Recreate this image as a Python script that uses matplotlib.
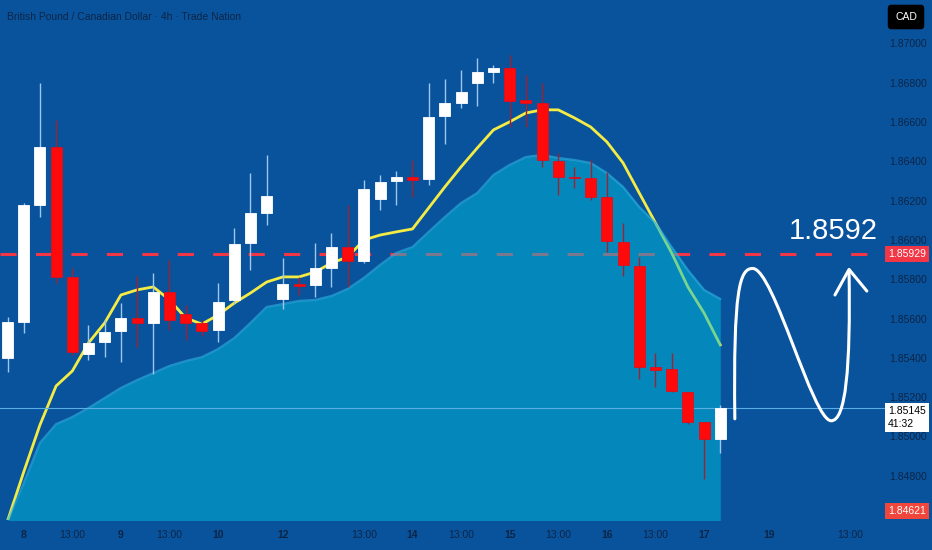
import numpy as np
import matplotlib.pyplot as plt
from matplotlib.path import Path
from matplotlib.patches import PathPatch

# 4h candles, GBP/CAD
opens = [1.85399, 1.85583, 1.86178, 1.86473, 1.85812, 1.85420, 1.85481, 1.85537, 1.85603, 1.85578,
         1.85735, 1.85623, 1.85578, 1.85542, 1.85695, 1.85985, 1.86137, 1.85700, 1.85776, 1.85771,
         1.85857, 1.85964, 1.85893, 1.86209, 1.86300, 1.86321, 1.86310, 1.86631, 1.86697, 1.86799,
         1.86855, 1.86875, 1.86713, 1.86697, 1.86402, 1.86321, 1.86316, 1.86219, 1.85990, 1.85868,
         1.85354, 1.85343, 1.85226, 1.85074, 1.84987]
highs = [1.85608, 1.86188, 1.86799, 1.86611, 1.85857, 1.85567, 1.85593, 1.85679, 1.85817, 1.85832,
         1.85898, 1.85669, 1.85593, 1.85781, 1.86061, 1.86341, 1.86433, 1.85908, 1.85812, 1.85985,
         1.86036, 1.86178, 1.86305, 1.86331, 1.86351, 1.86407, 1.86799, 1.86820, 1.86865, 1.86926,
         1.86891, 1.86942, 1.86840, 1.86799, 1.86443, 1.86372, 1.86407, 1.86346, 1.86087, 1.85913,
         1.85425, 1.85425, 1.85226, 1.85074, 1.85160]
lows = [1.85328, 1.85527, 1.86117, 1.85781, 1.85415, 1.85389, 1.85404, 1.85379, 1.85455, 1.85318,
        1.85542, 1.85490, 1.85511, 1.85481, 1.85674, 1.85847, 1.86076, 1.85649, 1.85720, 1.85710,
        1.85761, 1.85761, 1.85883, 1.86153, 1.86178, 1.86219, 1.86280, 1.86489, 1.86672, 1.86682,
        1.86799, 1.86575, 1.86575, 1.86372, 1.86229, 1.86265, 1.86204, 1.85939, 1.85817, 1.85292,
        1.85252, 1.85226, 1.85063, 1.84783, 1.84916]
closes = [1.85583, 1.86178, 1.86473, 1.85812, 1.85430, 1.85476, 1.85532, 1.85603, 1.85578, 1.85735,
          1.85593, 1.85578, 1.85537, 1.85684, 1.85980, 1.86137, 1.86224, 1.85776, 1.85766, 1.85857,
          1.85964, 1.85893, 1.86260, 1.86295, 1.86321, 1.86305, 1.86626, 1.86697, 1.86753, 1.86855,
          1.86875, 1.86708, 1.86697, 1.86407, 1.86321, 1.86316, 1.86219, 1.85995, 1.85873, 1.85354,
          1.85338, 1.85231, 1.85074, 1.84987, 1.85145]

# yellow moving average
ma_line = [1.8457, 1.84819, 1.85058, 1.85257, 1.85333, 1.85476, 1.85578, 1.85720, 1.85746, 1.85761,
           1.85695, 1.85603, 1.85572, 1.85618, 1.85679, 1.85730, 1.85786, 1.85812, 1.85812, 1.85837,
           1.85883, 1.85913, 1.86000, 1.86025, 1.86041, 1.86056, 1.86163, 1.86270, 1.86372, 1.86468,
           1.86560, 1.86601, 1.86646, 1.86662, 1.86662, 1.86621, 1.86575, 1.86499, 1.86392, 1.86239,
           1.86087, 1.85934, 1.85761, 1.85628, 1.85466]

# cyan area
area_top = [1.8457, 1.84763, 1.84967, 1.85063, 1.85099, 1.85145, 1.85196, 1.85247, 1.85287, 1.85323,
            1.85359, 1.85384, 1.85404, 1.85445, 1.85501, 1.85578, 1.85659, 1.85674, 1.85690, 1.85695,
            1.85715, 1.85751, 1.85807, 1.85873, 1.85934, 1.85964, 1.86041, 1.86117, 1.86188, 1.86239,
            1.86331, 1.86382, 1.86422, 1.86433, 1.86417, 1.86407, 1.86392, 1.86341, 1.86270, 1.86168,
            1.86087, 1.85964, 1.85847, 1.85746, 1.85700]

tick_pos = [1, 4, 7, 10, 13, 17, 22, 25, 28, 31, 34, 37, 40, 43, 47, 52]
tick_text = ['8', '13:00', '9', '13:00', '10', '12', '13:00', '14', '13:00', '15', '13:00',
             '16', '13:00', '17', '19', '13:00']
price_ticks = [1.870, 1.868, 1.866, 1.864, 1.862, 1.860, 1.858, 1.856, 1.854, 1.852, 1.850, 1.848]

level = 1.85929
last_price = 1.85145
countdown = '41:32'
low_mark = 1.84621
target_text = '1.8592'

bg = '#09539c'
navy = '#0c2547'
red = '#f23645'
plt.rcParams['font.family'] = ['Liberation Sans', 'DejaVu Sans']

fig = plt.figure(figsize=(9.32, 5.5), dpi=100)
fig.patch.set_facecolor(bg)
ax = fig.add_axes([0, 30 / 550, 885 / 932, 520 / 550])
ax.set_facecolor(bg)
for s in ax.spines.values():
    s.set_visible(False)

x = np.arange(len(opens))
ax.set_xlim(-0.463, 54.17)
ax.set_ylim(1.84575, 1.87221)

# level line and ma below the area
ax.axhline(level, color=red, lw=2.2, ls=(0, (5.3, 6.3)), zorder=1)
ax.plot(x, ma_line, color='#f4ec45', lw=2, zorder=2, solid_joinstyle='round')

ax.fill_between(x, area_top, 1.84, color='#00bdda', alpha=0.5, lw=0, zorder=3)
ax.plot(x, area_top, color='#2fb3e3', lw=1.6, alpha=0.6, zorder=3)

ax.axhline(last_price, color='#5aaee6', lw=0.8, zorder=3.5)

# candles
o = np.array(opens)
c = np.array(closes)
up = c >= o
wick_col = np.where(up, '#9cc8f0', '#9a2434')
ax.vlines(x, lows, highs, colors=wick_col, lw=1, zorder=4)
body_col = np.where(up, 'white', '#ff0a0a')
ax.bar(x, np.abs(c - o), bottom=np.minimum(o, c), width=0.68, color=body_col,
       edgecolor=np.where(up, 'white', '#d81020'), lw=0.6, zorder=5)

# hand drawn arrow
verts = [(44.9, 1.8509),
         (44.8, 1.8575), (45.2, 1.85855), (46.0, 1.85855),
         (47.3, 1.85855), (49.7, 1.8508), (50.85, 1.8508),
         (51.75, 1.8508), (52.05, 1.8535), (51.95, 1.8584)]
codes = [Path.MOVETO] + [Path.CURVE4] * 9
ax.add_patch(PathPatch(Path(verts, codes), fc='none', ec='white', lw=2.2,
                       capstyle='round', zorder=6))
ax.plot([51.08, 51.95, 53.05], [1.8572, 1.8585, 1.8574], color='white', lw=2.2,
        solid_capstyle='round', solid_joinstyle='round', zorder=6)
ax.text(51.0, 1.86046, target_text, color='white', fontsize=21, ha='center', va='center',
        zorder=6)

# axes ticks
ax.yaxis.tick_right()
ax.set_yticks(price_ticks, [f'{v:.5f}' for v in price_ticks])
ax.tick_params(axis='y', length=0, pad=3, labelsize=7.5, labelcolor=navy)
ax.set_xticks(tick_pos, tick_text)
ax.tick_params(axis='x', length=0, pad=7, labelsize=7.5, labelcolor=navy)
for lbl in ax.get_xticklabels():
    if ':' not in lbl.get_text():
        lbl.set_fontweight('bold')

ytr = ax.get_yaxis_transform()
ax.text(1.0035, level, f'{level:.5f}', transform=ytr, color='white', fontsize=7.5, va='center',
        ha='left', clip_on=False, zorder=10,
        bbox=dict(boxstyle='square,pad=0.3', fc=red, ec='none'))
ax.text(1.0035, last_price + 0.0001, f'{last_price:.5f}\n{countdown}', transform=ytr,
        color='black', fontsize=7.5, va='top', ha='left', clip_on=False, zorder=10,
        linespacing=1.4, bbox=dict(boxstyle='square,pad=0.3', fc='white', ec='none'))
ax.text(1.0035, low_mark, f'{low_mark:.5f}', transform=ytr, color='white', fontsize=7.5,
        va='center', ha='left', clip_on=False, zorder=10,
        bbox=dict(boxstyle='square,pad=0.3', fc='#f0463c', ec='none'))

fig.text(0.008, 1 - 17 / 550, 'British Pound / Canadian Dollar · 4h · Trade Nation',
         color=navy, fontsize=7.5, va='center', ha='left')
fig.text(906 / 932, 1 - 17 / 550, 'CAD', color='white', fontsize=7.5, va='center', ha='center',
         bbox=dict(boxstyle='round,pad=0.7,rounding_size=0.35', fc='black', ec='none'))

fig.savefig('out.png', dpi=100, facecolor=bg)
